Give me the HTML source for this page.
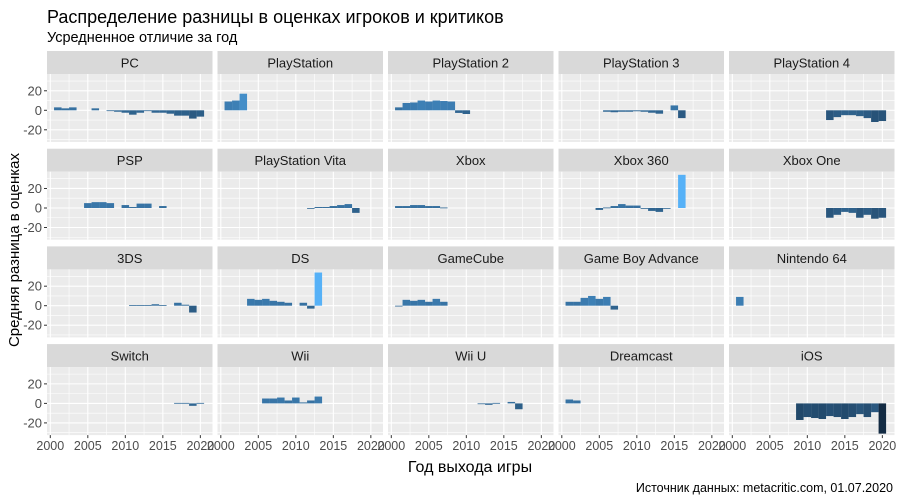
<!DOCTYPE html>
<html><head><meta charset="utf-8">
<style>
body{margin:0;background:#fff;}
svg{display:block;font-family:"Liberation Sans",Arial,sans-serif;}
</style></head>
<body>
<svg id="chart" width="900" height="500" viewBox="0 0 900 500">
<rect x="0" y="0" width="900" height="500" fill="#fff"/>
<text x="47" y="23" font-size="18" fill="#000">Распределение разницы в оценках игроков и критиков</text>
<text x="47" y="42" font-size="14.5" fill="#000">Усредненное отличие за год</text>
<text transform="translate(19,250) rotate(-90)" text-anchor="middle" font-size="15" fill="#000">Средняя разница в оценках</text>
<text x="470" y="472" text-anchor="middle" font-size="16" fill="#000">Год выхода игры</text>
<text x="893" y="492" text-anchor="end" font-size="12.5" fill="#000">Источник данных: metacritic.com, 01.07.2020</text>
<g id="panels"></g>
</svg>
<script>
const platforms = ["PC","PlayStation","PlayStation 2","PlayStation 3","PlayStation 4","PSP","PlayStation Vita","Xbox","Xbox 360","Xbox One","3DS","DS","GameCube","Game Boy Advance","Nintendo 64","Switch","Wii","Wii U","Dreamcast","iOS"];
const pcYears = [2001,2002,2003,2006,2008,2009,2010,2011,2012,2013,2014,2015,2016,2017,2018,2019,2020];
const pcValues = [3,2,3,2,-0.5,-1.5,-2.5,-4.5,-2.5,-0.5,-2.5,-2.5,-3.5,-5.5,-5.5,-8.5,-6.5];
const psYears = [2001,2002,2003];
const psValues = [9,10,17];
const ps2Years = [2001,2002,2003,2004,2005,2006,2007,2008,2009,2010];
const ps2Values = [3,7.5,8,10,9,10,9.5,9,-2.7,-3.8];
const ps3Years = [2006,2007,2008,2009,2010,2011,2012,2013,2015,2016];
const ps3Values = [-1.5,-2,-1.5,-1.5,-1,-1.5,-2.5,-3.5,5,-8];
const ps4Years = [2013,2014,2015,2016,2017,2018,2019,2020];
const ps4Values = [-10,-7,-5,-5,-6,-8,-12,-11];
const pspYears = [2005,2006,2007,2008,2010,2011,2012,2013,2015];
const pspValues = [5,6,6,5,3,1,4.5,4.5,2];
const vitaYears = [2012,2013,2014,2015,2016,2017,2018];
const vitaValues = [-0.5,1,1,2,3,4,-5];
const xboxYears = [2001,2002,2003,2004,2005,2006,2007];
const xboxValues = [2,2,3,3,2,2,0.5];
const x360Years = [2005,2006,2007,2008,2009,2010,2011,2012,2013,2014,2016];
const x360Values = [-2,0.5,2,4,2.5,2.5,-0.5,-3,-4,-0.5,34];
const xoneYears = [2013,2014,2015,2016,2017,2018,2019,2020];
const xoneValues = [-10,-7,-4,-5,-10,-7,-11,-10];
const n3dsYears = [2011,2012,2013,2014,2015,2017,2018,2019];
const n3dsValues = [0.5,0.5,0.5,1.5,0.5,3,1,-7];
const dsYears = [2004,2005,2006,2007,2008,2009,2011,2012,2013];
const dsValues = [7,6,7,5,4,3,3,-3,34];
const gcYears = [2001,2002,2003,2004,2005,2006,2007];
const gcValues = [-0.5,6,5,6,4,7,4];
const gbaYears = [2001,2002,2003,2004,2005,2006,2007];
const gbaValues = [4,4,8,10,7,9,-4];
const n64Years = [2001];
const n64Values = [9];
const switchYears = [2017,2018,2019,2020];
const switchValues = [0.5,0.5,-2.5,0.5];
const wiiYears = [2006,2007,2008,2009,2010,2011,2012,2013];
const wiiValues = [5,5,6,3,6,1,3,7];
const wiiuYears = [2012,2013,2014,2016,2017];
const wiiuValues = [-0.5,-1.5,0.5,1.5,-6];
const dcYears = [2001,2002];
const dcValues = [4,3];
const iosYears = [2009,2010,2011,2012,2013,2014,2015,2016,2017,2018,2019,2020];
const iosValues = [-17,-14,-15,-16,-13,-14,-16,-14,-11,-14,-9,-31];
const panelYears = [pcYears,psYears,ps2Years,ps3Years,ps4Years,pspYears,vitaYears,xboxYears,x360Years,xoneYears,n3dsYears,dsYears,gcYears,gbaYears,n64Years,switchYears,wiiYears,wiiuYears,dcYears,iosYears];
const panelValues = [pcValues,psValues,ps2Values,ps3Values,ps4Values,pspValues,vitaValues,xboxValues,x360Values,xoneValues,n3dsValues,dsValues,gcValues,gbaValues,n64Values,switchValues,wiiValues,wiiuValues,dcValues,iosValues];
const xTicks = [2000,2005,2010,2015,2020];
const yTicks = [-20,0,20];

const NS = "http://www.w3.org/2000/svg";
const g = document.getElementById('panels');
const colLeft = [47,217.5,388,558.5,729];
const PW = 165.5, SH = 23, PH = 68;
const rowTop = [51,148.7,246.4,344.1];
const xMin = 1999.56, xMax = 2021.62;
const yMax = 37.2, yMin = -32.5;
let all = [].concat(...panelValues);
const vMin = Math.min(...all), vMax = Math.max(...all);
function colorFor(v){
  const t = (v - vMin)/(vMax - vMin);
  const lo=[19,43,67], hi=[86,177,247];
  const c = lo.map((l,i)=>Math.round(l+(hi[i]-l)*t));
  return `rgb(${c[0]},${c[1]},${c[2]})`;
}
function mk(tag, attrs, parent){
  const e = document.createElementNS(NS, tag);
  for (const k in attrs) e.setAttribute(k, attrs[k]);
  (parent||g).appendChild(e);
  return e;
}
platforms.forEach((name, i) => {
  const col = i % 5, row = Math.floor(i/5);
  const L = colLeft[col], T = rowTop[row] + SH;
  const xs = yr => L + (yr - xMin)/(xMax - xMin)*PW;
  const ys = v => T + (yMax - v)/(yMax - yMin)*PH;
  const pg = mk('g', {});
  
  
  const strip = mk('rect', {x:L, y:rowTop[row], width:PW, height:SH, fill:'#d9d9d9'}, pg);
  
  
  const st = mk('text', {x:L+PW/2, y:rowTop[row]+16.5, 'text-anchor':'middle', 'font-size':'13', fill:'#1a1a1a'}, pg);
  st.textContent = name;
  
  
  const bg = mk('rect', {x:L, y:T, width:PW, height:PH, fill:'#ebebeb'}, pg);
  
  
  for (let yr = 2002.5; yr < xMax; yr += 5) mk('line', {x1:xs(yr), x2:xs(yr), y1:T, y2:T+PH, stroke:'#fff', 'stroke-width':0.6}, pg);
  [-30,-10,10,30].forEach(v => mk('line', {x1:L, x2:L+PW, y1:ys(v), y2:ys(v), stroke:'#fff', 'stroke-width':0.6}, pg));
  xTicks.forEach(yr => mk('line', {x1:xs(yr), x2:xs(yr), y1:T, y2:T+PH, stroke:'#fff', 'stroke-width':1.1}, pg));
  yTicks.forEach(v => mk('line', {x1:L, x2:L+PW, y1:ys(v), y2:ys(v), stroke:'#fff', 'stroke-width':1.1}, pg));
  const yrs = panelYears[i], vals = panelValues[i];
  yrs.forEach((yr, j) => {
    const v = vals[j];
    const x0 = xs(yr - 0.5), x1 = xs(yr + 0.5);
    const y0 = ys(Math.max(v,0)), y1 = ys(Math.min(v,0));
    const b = mk('rect', {x:x0, y:y0, width:x1-x0, height:Math.max(y1-y0,0.8), fill:colorFor(v)}, pg);
    
    
  });
  if (col === 0) {
    yTicks.forEach(v => {
      mk('line', {x1:L-3, x2:L, y1:ys(v), y2:ys(v), stroke:'#333', 'stroke-width':1}, pg);
      const t = mk('text', {x:L-5, y:ys(v)+4.5, 'text-anchor':'end', 'font-size':'13', fill:'#4d4d4d'}, pg);
      t.textContent = v;
      
      
    });
  }
  if (row === 3) {
    xTicks.forEach(yr => {
      mk('line', {x1:xs(yr), x2:xs(yr), y1:T+PH, y2:T+PH+3, stroke:'#333', 'stroke-width':1}, pg);
      const t = mk('text', {x:xs(yr), y:T+PH+15, 'text-anchor':'middle', 'font-size':'12.5', fill:'#4d4d4d'}, pg);
      t.textContent = yr;
      
      
    });
  }
});
</script>
</body></html>
